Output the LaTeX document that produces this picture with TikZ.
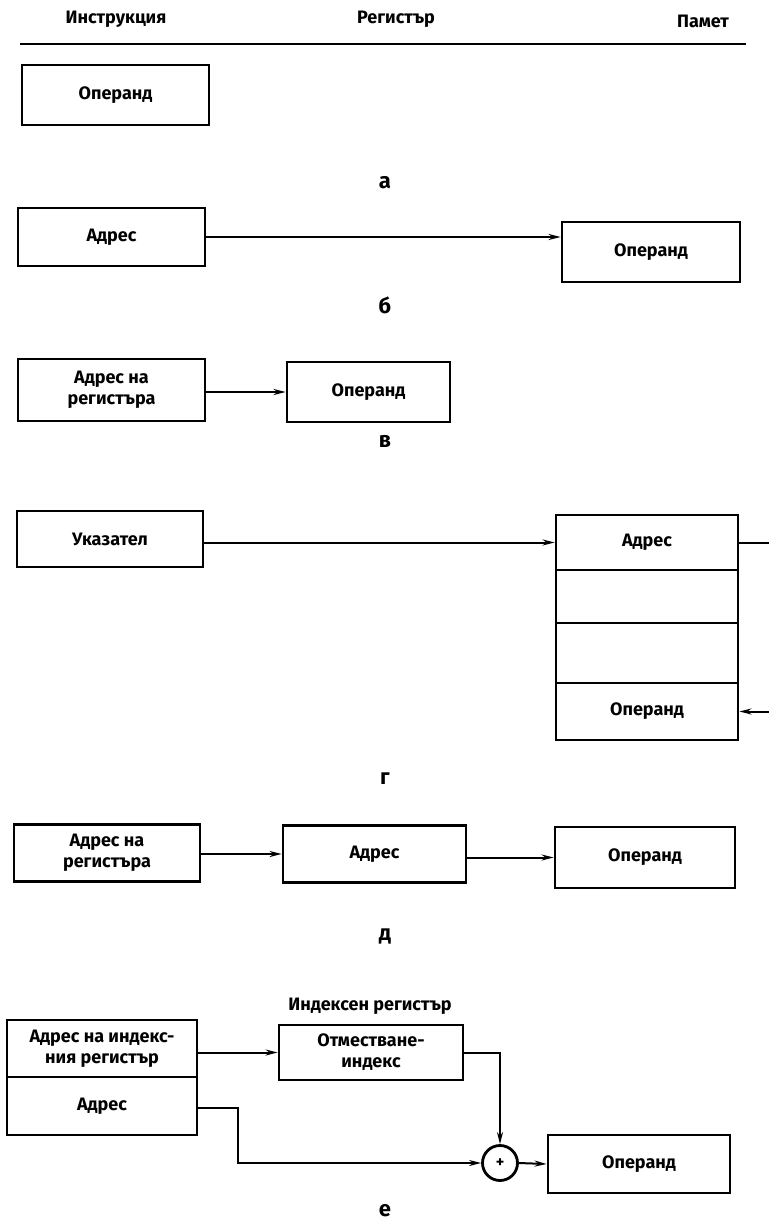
\documentclass[tikz,border=0pt]{standalone}
\usepackage{fontspec}
\setmainfont{Fira Sans}
\usetikzlibrary{arrows.meta}
\tikzset{
  cell/.style={draw, line width=2.8pt, rectangle, inner sep=0pt, align=center,
    font=\bfseries\fontsize{18}{21}\selectfont},
  head/.style={font=\bfseries\fontsize{18}{21}\selectfont, inner sep=0pt},
  tag/.style={font=\bfseries\fontsize{22}{24}\selectfont, inner sep=0pt},
  link/.style={line width=2pt, -{Stealth[length=12pt,width=6pt]}},
  wire/.style={line width=2pt},
}
\begin{document}
\begin{tikzpicture}[x=1pt,y=-1pt]
\useasboundingbox (0,0) rectangle (768,1222);

% column headings
\node[head] (hi) at (116,19) {Инструкция};
\node[head] (hr) at (396,19) {Регистър};
\node[head] (hm) at (703,21) {Памет};
\coordinate (rl) at (20,44);
\coordinate (rr) at (746,44);
\draw[line width=2.4pt] (rl) -- (rr);

% (a) immediate
\node[cell, minimum width=187pt, minimum height=60pt] (aop) at (115.5,95) {Операнд};
\node[tag] (la) at (385,183) {а};

% (b) direct
\node[cell, minimum width=187pt, minimum height=58pt] (badr) at (111.5,237) {Адрес};
\node[cell, minimum width=178pt, minimum height=60pt] (bop) at (651,252) {Операнд};
\draw[link] (badr.east) -- (badr.east -| bop.west);
\node[tag] (lb) at (385,305) {б};

% (c) register
\node[cell, minimum width=187pt, minimum height=62pt] (creg) at (111.5,390) {Адрес на\\регистъра};
\node[cell, minimum width=163pt, minimum height=60pt] (cop) at (368.5,392) {Операнд};
\draw[link] (creg.east |- cop.west) -- (cop.west);
\node[tag] (lc) at (385,441) {в};

% (d) indirect through memory
\node[cell, minimum width=186pt, minimum height=56pt] (dptr) at (110,539) {Указател};
\node[cell, minimum width=182pt, minimum height=55pt] (m1) at (647,542.5) {Адрес};
\node[cell, minimum width=182pt, minimum height=53pt] (m2) at (647,596.5) {};
\node[cell, minimum width=182pt, minimum height=60pt] (m3) at (647,653) {};
\node[cell, minimum width=182pt, minimum height=57pt] (m4) at (647,711.5) {Операнд};
\draw[link] (dptr.east |- m1.west) -- (m1.west);
\coordinate (dr) at (774,0);
\draw[wire] (m1.east) -- (m1.east -| dr) -- (m4.east -| dr);
\draw[link] (m4.east -| dr) -- (m4.east);
\node[tag] (ld) at (385,779) {г};

% (e) register indirect
\node[cell, minimum width=186pt, minimum height=57pt] (ereg) at (107,853) {Адрес на\\регистъра};
\node[cell, minimum width=183pt, minimum height=57pt] (eadr) at (374.5,854) {Адрес};
\node[cell, minimum width=180pt, minimum height=61pt] (eop) at (645,857.5) {Операнд};
\draw[link] (ereg.east |- eadr.west) -- (eadr.west);
\draw[link] (eadr.east |- eop.west) -- (eop.west);
\node[tag] (le) at (385,936) {д};

% (f) indexed
\node[head] (xt) at (370,1006) {Индексен регистър};
\node[cell, minimum width=190pt, minimum height=57pt] (xreg) at (102,1048.5) {Адрес на индекс-\\ния регистър};
\node[cell, minimum width=190pt, minimum height=58pt] (xadr) at (102,1106) {Адрес};
\node[cell, minimum width=184pt, minimum height=55pt] (xoff) at (371,1052.5) {Отместване-\\индекс};
\node[draw, circle, line width=2.8pt, minimum size=35pt, inner sep=0pt,
  font=\bfseries\fontsize{16}{16}\selectfont] (sum) at (500,1163) {+};
\node[cell, minimum width=182pt, minimum height=58pt] (xop) at (639,1164) {Операнд};
\draw[link] (xreg.east |- xoff.west) -- (xoff.west);
\coordinate (xbend) at (238,1108);
\draw[link] (xoff.east) -| (sum.north);
\draw[link] (xadr.east |- xbend) -- (xbend) |- (sum.west);
\draw[link] (sum.east) -- (xop.west);
\node[tag] (lf) at (385,1211) {е};
\end{tikzpicture}
\end{document}
